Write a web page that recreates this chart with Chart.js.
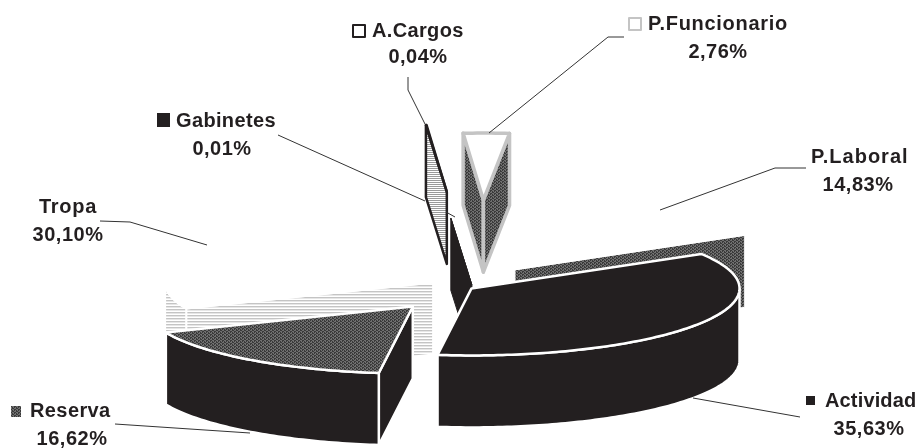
<!DOCTYPE html>
<html><head><meta charset="utf-8">
<script src="https://cdn.jsdelivr.net/npm/chart.js@4"></script>
<style>html,body{margin:0;padding:0;background:#fff}#w{width:921px;height:448px;position:relative}</style>
</head><body><div id="w"><canvas id="c" width="921" height="448"></canvas></div>
<script>
const categories = ['Actividad','Reserva','Tropa','Gabinetes','A.Cargos','P.Funcionario','P.Laboral'];
const shares = [35.63,16.62,30.10,0.01,0.04,2.76,14.83];
const explode = [3,93,42,12,385,352,86];
const bearing = [0,0,0,18.5,1.1,1.7,0];

const SQ=0.25, DEPTH=72, INK='#231f20';
function pat(rows){const h=rows.length,w=rows[0].length,c=document.createElement('canvas');c.width=w;c.height=h;const x=c.getContext('2d');
 rows.forEach((r,j)=>[...r].forEach((k,i)=>{x.fillStyle={x:'#3a3a3a',y:'#707070',c:'#9a9a9a',d:'#c4c4c4',e:'#e6e6e6',w:'#fff'}[k];x.fillRect(i,j,1,1);}));return x.createPattern(c,'repeat');}
const dither=pat(['xxyy','yyxx','xyxy']), hatchLight=pat(['d','e','w']), hatchMid=pat(['c','w']);
const looks=[
 {top:INK,wall:INK,stroke:'#fff',lw:2.5},
 {top:dither,wall:INK,stroke:'#fff',lw:2.5},
 {top:'#fff',wall:hatchLight,stroke:'#fff',lw:2},
 {top:INK,wall:INK,stroke:INK,lw:1},
 {top:'#fff',wall:hatchMid,stroke:INK,lw:2.5},
 {top:'#fff',wall:dither,stroke:'#c4c4c4',lw:3.5},
 {top:'#fff',wall:dither,stroke:'#fff',lw:1}
];
const paintOrder=[5,4,6,2,3,1,0];
const labels=[
 {n:0,x:825,y:407,px:869,py:435,ls:0.15,sw:[806,396,9,9],sf:INK},
 {n:1,x:30,y:417,px:72,py:445,ls:0.4,sw:[11,406,10,11],sf:dither},
 {n:2,x:39,y:213,px:68,py:241,ls:0.7},
 {n:3,x:176,y:127,px:222,py:155,ls:0.35,sw:[157,113,13,14],sf:INK},
 {n:4,x:372,y:37,px:418,py:63,ls:0.35,sw:[353,25,12,12],sf:'#fff',ss:INK},
 {n:5,x:648,y:30,px:718,py:58,ls:0.7,sw:[629,18,12,12],sf:'#fff',ss:'#c4c4c4'},
 {n:6,x:811,y:163,px:858,py:191,ls:1}
];
const leaders=[
 [[408,77],[408,90],[425,124]],
 [[624,37],[608,37],[489,133]],
 [[278,135],[425,201]],
 [[446,212],[455,217]],
 [[100,221],[130,222],[207,245]],
 [[806,168],[775,168],[660,210]],
 [[693,398],[800,417]],
 [[115,424],[250,433]]
];
function poly(c,pts,fill,stroke,lw){c.beginPath();pts.forEach((p,i)=>i?c.lineTo(p[0],p[1]):c.moveTo(p[0],p[1]));c.closePath();c.fillStyle=fill;c.fill();if(stroke){c.strokeStyle=stroke;c.lineWidth=lw;c.lineJoin='round';c.stroke();}}
const pie3d={id:'pie3d',beforeDatasetsDraw(chart){
 const c=chart.ctx,els=chart.getDatasetMeta(0).data;
 c.save();
 paintOrder.forEach(i=>{
  const el=els[i],L=looks[i],s=el.startAngle,e=el.endAngle,r=el.outerRadius;
  const m=(s+e)/2+bearing[i]*Math.PI/180,off=explode[i];
  const P=(a,rr,z)=>[el.x+off*Math.cos(m)+rr*Math.cos(a),el.y+SQ*(off*Math.sin(m)+rr*Math.sin(a))+z];
  const arc=(a,b,z)=>{const o=[],n=Math.max(1,Math.ceil((b-a)/(Math.PI/180)));for(let k=0;k<=n;k++)o.push(P(a+(b-a)*k/n,r,z));return o;};
  const wallEdge=a=>poly(c,[P(a,0,0),P(a,r,0),P(a,r,DEPTH),P(a,0,DEPTH)],L.wall,L.stroke,L.lw);
  if(Math.sin(s-Math.PI/2)>0)wallEdge(s);
  if(Math.sin(e+Math.PI/2)>0)wallEdge(e);
  const a0=Math.max(s,0),a1=Math.min(e,Math.PI);
  if(a1>a0)poly(c,arc(a0,a1,0).concat(arc(a0,a1,DEPTH).reverse()),L.wall,L.stroke,L.lw);
  poly(c,[P(s,0,0)].concat(arc(s,e,0)),L.top,L.stroke,L.lw);
 });
 c.strokeStyle='#333';c.lineWidth=1;
 leaders.forEach(l=>{c.beginPath();l.forEach((p,i)=>i?c.lineTo(p[0],p[1]):c.moveTo(p[0],p[1]));c.stroke();});
 c.font='bold 20px "Liberation Sans"';c.fillStyle=INK;c.textBaseline='alphabetic';
 labels.forEach(l=>{
  if(l.sw){c.fillStyle=l.sf;c.fillRect(...l.sw);if(l.ss){c.strokeStyle=l.ss;c.lineWidth=2;c.strokeRect(...l.sw);}}
  c.fillStyle=INK;c.textAlign='left';c.letterSpacing=l.ls+'px';c.fillText(categories[l.n],l.x,l.y);
  c.textAlign='center';c.letterSpacing='0.5px';c.fillText(shares[l.n].toFixed(2).replace('.',',')+'%',l.px,l.py);
 });
 c.restore();
 return false;
}};
new Chart(document.getElementById('c'),{type:'pie',
 data:{labels:categories,datasets:[{data:shares,radius:268,borderWidth:0}]},
 options:{responsive:false,animation:false,rotation:59,layout:{padding:{left:17,top:128}},
  plugins:{legend:{display:false},tooltip:{enabled:false}},events:[]},
 plugins:[pie3d]});
</script></body></html>
